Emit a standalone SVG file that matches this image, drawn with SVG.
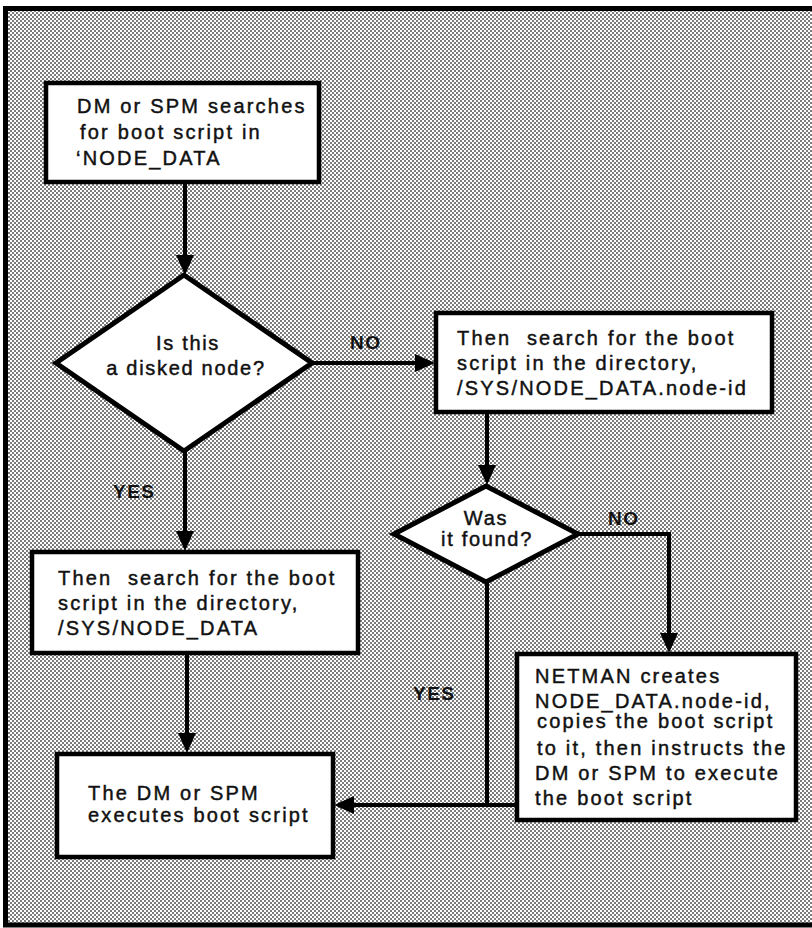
<svg xmlns="http://www.w3.org/2000/svg" width="812" height="928" viewBox="0 0 812 928">
  <style>
    .box { fill: #ffffff; stroke: #000; stroke-width: 4.5; }
    .dia { fill: #ffffff; stroke: #000; stroke-width: 5; stroke-linejoin: miter; }
    .t { font-family: "Liberation Sans", Arial, sans-serif; font-size: 20px; letter-spacing: 2.2px; fill: #111; stroke: #111; stroke-width: 0.45; }
    .lbl { font-family: "Liberation Sans", Arial, sans-serif; font-size: 19px; font-weight: bold; letter-spacing: 1.5px; fill: #111; }
    .c { fill: none; stroke: #000; stroke-width: 4; }
    .ca { fill: none; stroke: #000; stroke-width: 4; marker-end: url(#arr); }
  </style>
  <defs>
    <pattern id="dots" width="4" height="4" patternUnits="userSpaceOnUse">
      <rect width="4" height="4" fill="#ffffff"/>
      <circle cx="1" cy="1" r="0.95" fill="#444"/>
      <circle cx="3" cy="3" r="0.95" fill="#444"/>
    </pattern>
    <marker id="arr" markerUnits="userSpaceOnUse" markerWidth="20" markerHeight="18" refX="1" refY="9" orient="auto">
      <path d="M0,0 L20,9 L0,18 z" fill="#000"/>
    </marker>
  </defs>

  <rect width="812" height="928" fill="#ffffff"/>
  <rect id="frame" x="5.5" y="8.5" width="820" height="916.5" fill="url(#dots)" stroke="#000" stroke-width="5"/>

  <g id="connectors">
    <path class="ca" d="M185,182 V256"/>
    <path class="ca" d="M312,363 H416"/>
    <path class="ca" d="M185,451 V532"/>
    <path class="ca" d="M487,412 V466"/>
    <path class="ca" d="M578,534 H669 V634"/>
    <path class="ca" d="M487,582 V805 H353"/>
    <path class="c" d="M517,805 H485"/>
    <path class="ca" d="M187,653 V734"/>
    <text class="lbl" x="350" y="349">NO</text>
    <text class="lbl" x="608" y="525">NO</text>
    <text class="lbl" x="113" y="498">YES</text>
    <text class="lbl" x="413" y="700">YES</text>
  </g>

  <g id="start">
    <rect class="box" x="46" y="83" width="273" height="99"/>
    <text class="t" x="77" y="113">DM or SPM searches</text>
    <text class="t" x="80" y="139">for boot script in</text>
    <text class="t" x="76" y="165">‘NODE_DATA</text>
  </g>

  <g id="disked">
    <polygon class="dia" points="184,275 312,363 184,451 56,363"/>
    <text class="t" x="188" y="350" text-anchor="middle" style="letter-spacing:1.7px">Is this</text>
    <text class="t" x="186" y="375" text-anchor="middle" style="letter-spacing:1.7px">a disked node?</text>
  </g>

  <g id="searchNodeId">
    <rect class="box" x="436" y="313" width="336" height="99"/>
    <text class="t" x="457" y="345" xml:space="preserve">Then  search for the boot</text>
    <text class="t" x="457" y="370">script in the directory,</text>
    <text class="t" x="457" y="395">/SYS/NODE_DATA.node-id</text>
  </g>

  <g id="found">
    <polygon class="dia" points="486,486 578,534 486,582 394,534"/>
    <text class="t" x="486" y="525" text-anchor="middle" style="letter-spacing:1.7px">Was</text>
    <text class="t" x="487" y="546" text-anchor="middle" style="letter-spacing:1.7px">it found?</text>
  </g>

  <g id="searchNodeData">
    <rect class="box" x="32" y="552" width="326" height="101"/>
    <text class="t" x="58" y="585" xml:space="preserve">Then  search for the boot</text>
    <text class="t" x="58" y="610">script in the directory,</text>
    <text class="t" x="58" y="635">/SYS/NODE_DATA</text>
  </g>

  <g id="netman">
    <rect class="box" x="517" y="654" width="279" height="166"/>
    <text class="t" x="535" y="683">NETMAN creates</text>
    <text class="t" x="535" y="708">NODE_DATA.node-id,</text>
    <text class="t" x="537" y="728">copies the boot script</text>
    <text class="t" x="537" y="755">to it, then instructs the</text>
    <text class="t" x="535" y="780">DM or SPM to execute</text>
    <text class="t" x="535" y="805">the boot script</text>
  </g>

  <g id="execute">
    <rect class="box" x="57" y="754" width="276" height="103"/>
    <text class="t" x="88" y="800">The DM or SPM</text>
    <text class="t" x="88" y="822">executes boot script</text>
  </g>
</svg>
